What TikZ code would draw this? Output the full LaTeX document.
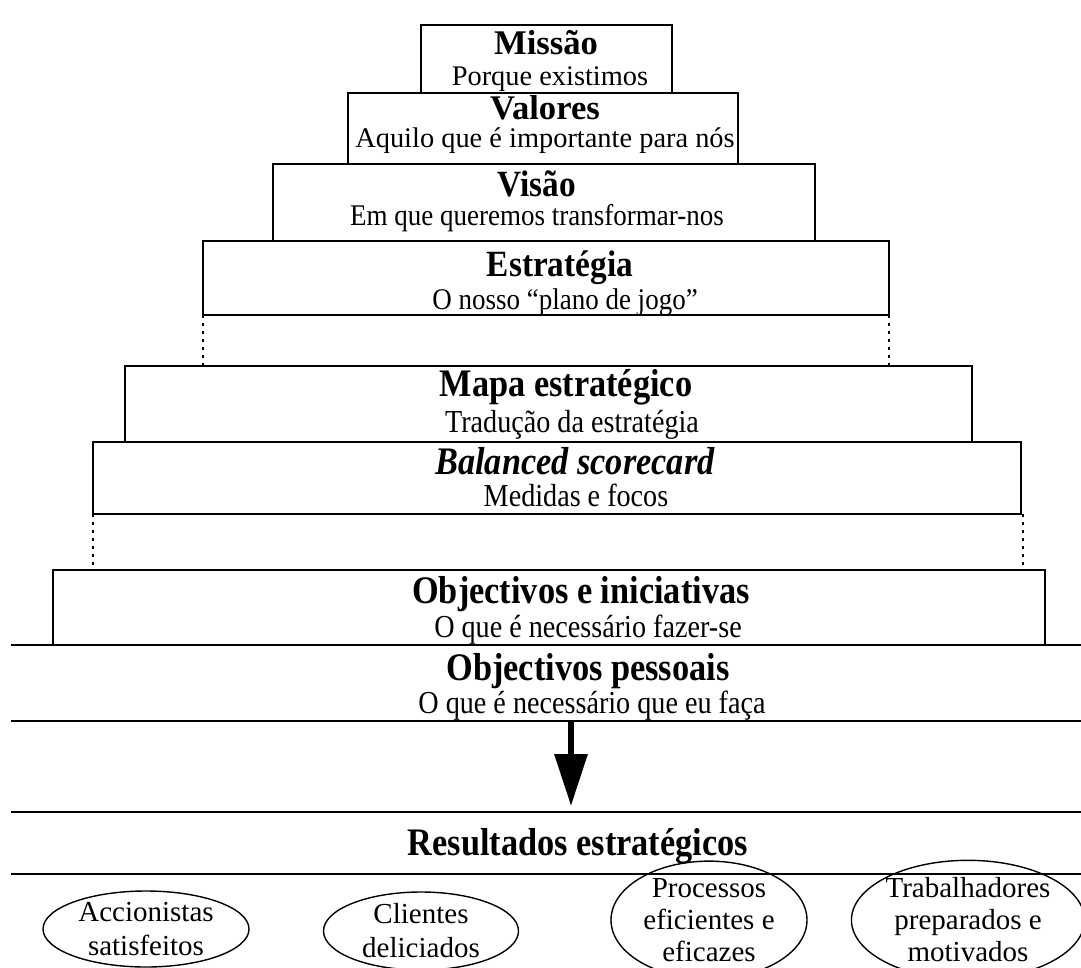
\documentclass[tikz,border=0pt]{standalone}
\usepackage{fontspec}
\setmainfont{Liberation Serif}
\newfontfamily\midserif[FakeStretch=0.9]{Liberation Serif}
\newfontfamily\narrowserif[FakeStretch=0.88]{Liberation Serif}
\usetikzlibrary{arrows.meta,shapes.geometric}

\begin{document}
\begin{tikzpicture}[x=0.5pt,y=-0.5pt,
  boxline/.style={line width=1.2pt},
  guide/.style={line width=0.9pt, dash pattern=on 1.6pt off 2.4pt},
  ttl/.style={font=\fontsize{17.3}{20}\selectfont\bfseries, anchor=base, inner sep=0pt},
  subttl/.style={font=\fontsize{14.2}{17}\selectfont, anchor=base, inner sep=0pt},
  midttl/.style={font={\midserif\fontsize{18.5}{21}\selectfont\bfseries}, anchor=base, inner sep=0pt},
  midsub/.style={font={\midserif\fontsize{15}{18}\selectfont}, anchor=base, inner sep=0pt},
  lowttl/.style={font={\narrowserif\fontsize{19.5}{22}\selectfont\bfseries}, anchor=base, inner sep=0pt},
  lowsub/.style={font={\narrowserif\fontsize{16}{19}\selectfont}, anchor=base, inner sep=0pt},
  goal/.style={draw, ellipse, line width=0.7pt, inner sep=0pt, align=center,
    font=\fontsize{14.5}{17}\selectfont},
  flow/.style={line width=3.2pt, -{Triangle[length=26pt,width=16pt]}}
]
\clip (0,0) rectangle (1081,968);
\fill[white] (0,0) rectangle (1081,968);

% stacked blocks of the pyramid
\draw[boxline] (421,25) rectangle (672,93);
\draw[boxline] (348,93) rectangle (738,164);
\draw[boxline] (273,164) rectangle (815,241);
\draw[boxline] (203,241) rectangle (889,315);
\draw[boxline] (125,366) rectangle (972,442);
\draw[boxline] (93,442) rectangle (1021,514);
\draw[boxline] (53,570) rectangle (1045,645);

% full-width bands at the base
\draw[boxline] (11,645) -- (1081,645);
\draw[boxline] (11,721) -- (1081,721);
\draw[boxline] (11,812) -- (1081,812);
\draw[boxline] (11,874) -- (1081,874);

% dotted guides between the groups
\draw[guide] (203,315) -- (203,366);
\draw[guide] (889,315) -- (889,366);
\draw[guide] (93,514) -- (93,570);
\draw[guide] (1023,514) -- (1023,570);

% level texts
\node[ttl] (missao) at (546,55) {Missão};
\node[subttl] (missaosub) at (550,86) {Porque existimos};
\node[ttl] (valores) at (545,120) {Valores};
\node[subttl] (valoressub) at (545,148) {Aquilo que é importante para nós};
\node[midttl] (visao) at (537,197) {Visão};
\node[midsub] (visaosub) at (537,226) {Em que queremos transformar-nos};
\node[midttl] (estrategia) at (560,277) {Estratégia};
\node[midsub] (estrategiasub) at (565,309) {O nosso “plano de jogo”};
\node[lowttl] (mapa) at (566,396) {Mapa estratégico};
\node[lowsub] (mapasub) at (572,432) {Tradução da estratégia};
\node[lowttl, font={\narrowserif\fontsize{19.5}{22}\selectfont\bfseries\itshape}] (bsc) at (575,474) {Balanced scorecard};
\node[lowsub] (bscsub) at (576,506) {Medidas e focos};
\node[lowttl] (iniciativas) at (581,603) {Objectivos e iniciativas};
\node[lowsub] (iniciativassub) at (588,637) {O que é necessário fazer-se};
\node[lowttl] (pessoais) at (588,680) {Objectivos pessoais};
\node[lowsub] (pessoaissub) at (592,713) {O que é necessário que eu faça};
\node[lowttl] (resultados) at (578,855) {Resultados estratégicos};

% arrow from personal goals down to strategic results
\coordinate (flowtop) at (571,721);
\coordinate (flowend) at (571,806);
\draw[flow] (flowtop) -- (flowend);

% strategic results
\node[goal, minimum width=103pt, minimum height=38pt] (accionistas) at (146,929)
  {Accionistas\\satisfeitos};
\node[goal, minimum width=97.5pt, minimum height=39pt] (clientes) at (421,931)
  {Clientes\\deliciados};
\node[goal, minimum width=98pt, minimum height=57pt,
  font=\fontsize{14.5}{16}\selectfont] (processos) at (709,920)
  {Processos\\eficientes e\\eficazes};
\node[goal, minimum width=108pt, minimum height=57pt,
  font=\fontsize{14.5}{16}\selectfont] (trabalhadores) at (968,920)
  {Trabalhadores\\preparados e\\motivados};
\end{tikzpicture}
\end{document}
